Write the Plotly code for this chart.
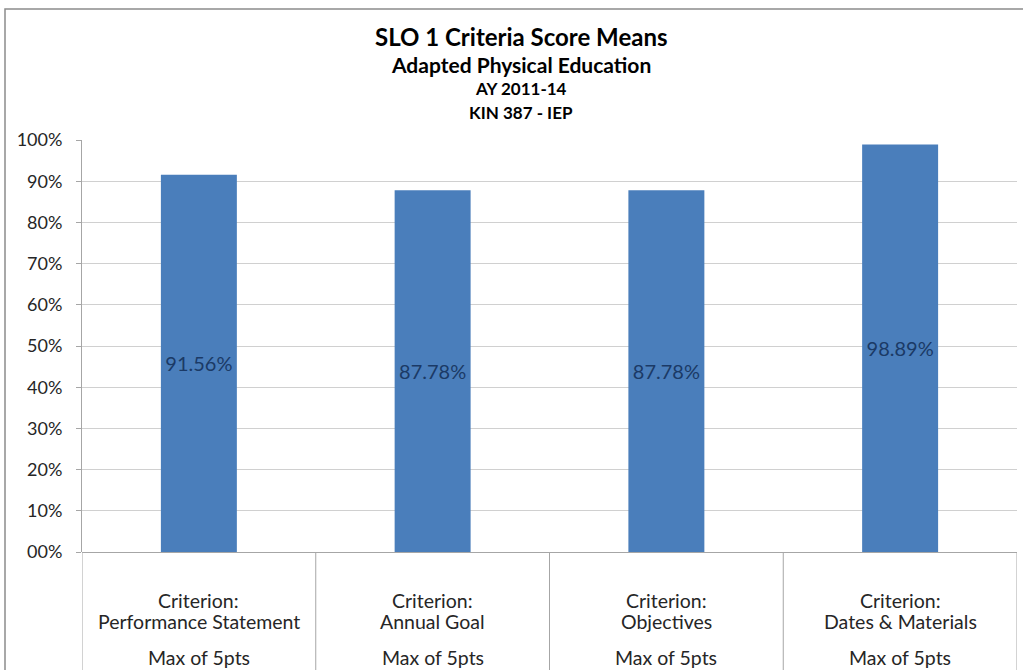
import plotly.graph_objects as go

categories = ["Performance Statement", "Annual Goal", "Objectives", "Dates & Materials"]
values = [91.56, 87.78, 87.78, 98.89]
value_labels = ["91.56%", "87.78%", "87.78%", "98.89%"]
tick_vals = [0, 10, 20, 30, 40, 50, 60, 70, 80, 90, 100]
tick_text = ["00%", "10%", "20%", "30%", "40%", "50%", "60%", "70%", "80%", "90%", "100%"]
criterion_prefix = "Criterion:"
max_label = "Max of 5pts"

FONT = "Lato, Calibri, sans-serif"
W, H = 1023, 670
L, R, T, B = 82, 6, 140, 118
plot_h = H - T - B
plot_w = W - L - R

fig = go.Figure()
fig.add_trace(go.Bar(
    x=categories, y=values,
    marker=dict(color="#4A7EBB", line=dict(width=0)),
    width=0.325,
    text=value_labels, textposition="inside", insidetextanchor="middle",
    textfont=dict(family=FONT, size=20, color="#1B3A66"),
    textangle=0,
    hoverinfo="skip",
))

shapes = []
n = len(categories)
for i in range(n + 1):
    shapes.append(dict(type="line", xref="x", yref="paper",
                       x0=i - 0.5, x1=i - 0.5, y0=0, y1=-(B + 5) / plot_h,
                       line=dict(color="#A6A6A6", width=1)))
# outer chart border (left and top edges visible)
shapes.append(dict(type="rect", xref="paper", yref="paper",
                   x0=-(L - 5) / plot_w, x1=1 + 20 / plot_w,
                   y0=-(B + 20) / plot_h, y1=1 + (T - 9) / plot_h,
                   line=dict(color="#8C8C8C", width=1.5)))

annotations = []
label_font = dict(family=FONT, size=19.5, color="#262626")
for i, c in enumerate(categories):
    for txt, off in ((criterion_prefix, 48), (c, 69), (max_label, 105)):
        annotations.append(dict(x=i, y=-off / plot_h, xref="x", yref="paper",
                                text=txt, showarrow=False, yanchor="middle",
                                font=label_font))

title_cx = (521 - L) / plot_w
titles = [("SLO 1 Criteria Score Means", 24, 36),
          ("Adapted Physical Education", 21, 64),
          ("AY 2011-14", 17, 88),
          ("KIN 387 - IEP", 17, 112)]
for txt, sz, ypx in titles:
    annotations.append(dict(x=title_cx, xref="paper", yref="paper",
                            y=1 + (T - ypx) / plot_h, yanchor="middle",
                            xanchor="center",
                            text="<b>" + txt + "</b>", showarrow=False,
                            font=dict(family=FONT, size=sz, color="#000000")))

fig.update_layout(
    width=W, height=H,
    margin=dict(l=L, r=R, t=T, b=B, pad=0),
    paper_bgcolor="white", plot_bgcolor="white",
    showlegend=False,
    bargap=0.675,
    shapes=shapes,
    annotations=annotations,
    xaxis=dict(showticklabels=False, showgrid=False, zeroline=False,
               showline=False, ticks="", range=[-0.5, n - 0.5]),
    yaxis=dict(range=[0, 100], tickvals=tick_vals, ticktext=tick_text,
               showgrid=True, gridcolor="#D0D0D0", gridwidth=1,
               zeroline=True, zerolinecolor="#A6A6A6", zerolinewidth=1,
               showline=True, linecolor="#A6A6A6", linewidth=1,
               ticks="outside", ticklen=5, tickcolor="#A6A6A6",
               ticklabelstandoff=10,
               tickfont=dict(family=FONT, size=18, color="#262626")),
)

fig.write_html("out.html",
               config={"displayModeBar": False},
               post_script="document.body.style.margin='0';document.body.style.padding='0';")
